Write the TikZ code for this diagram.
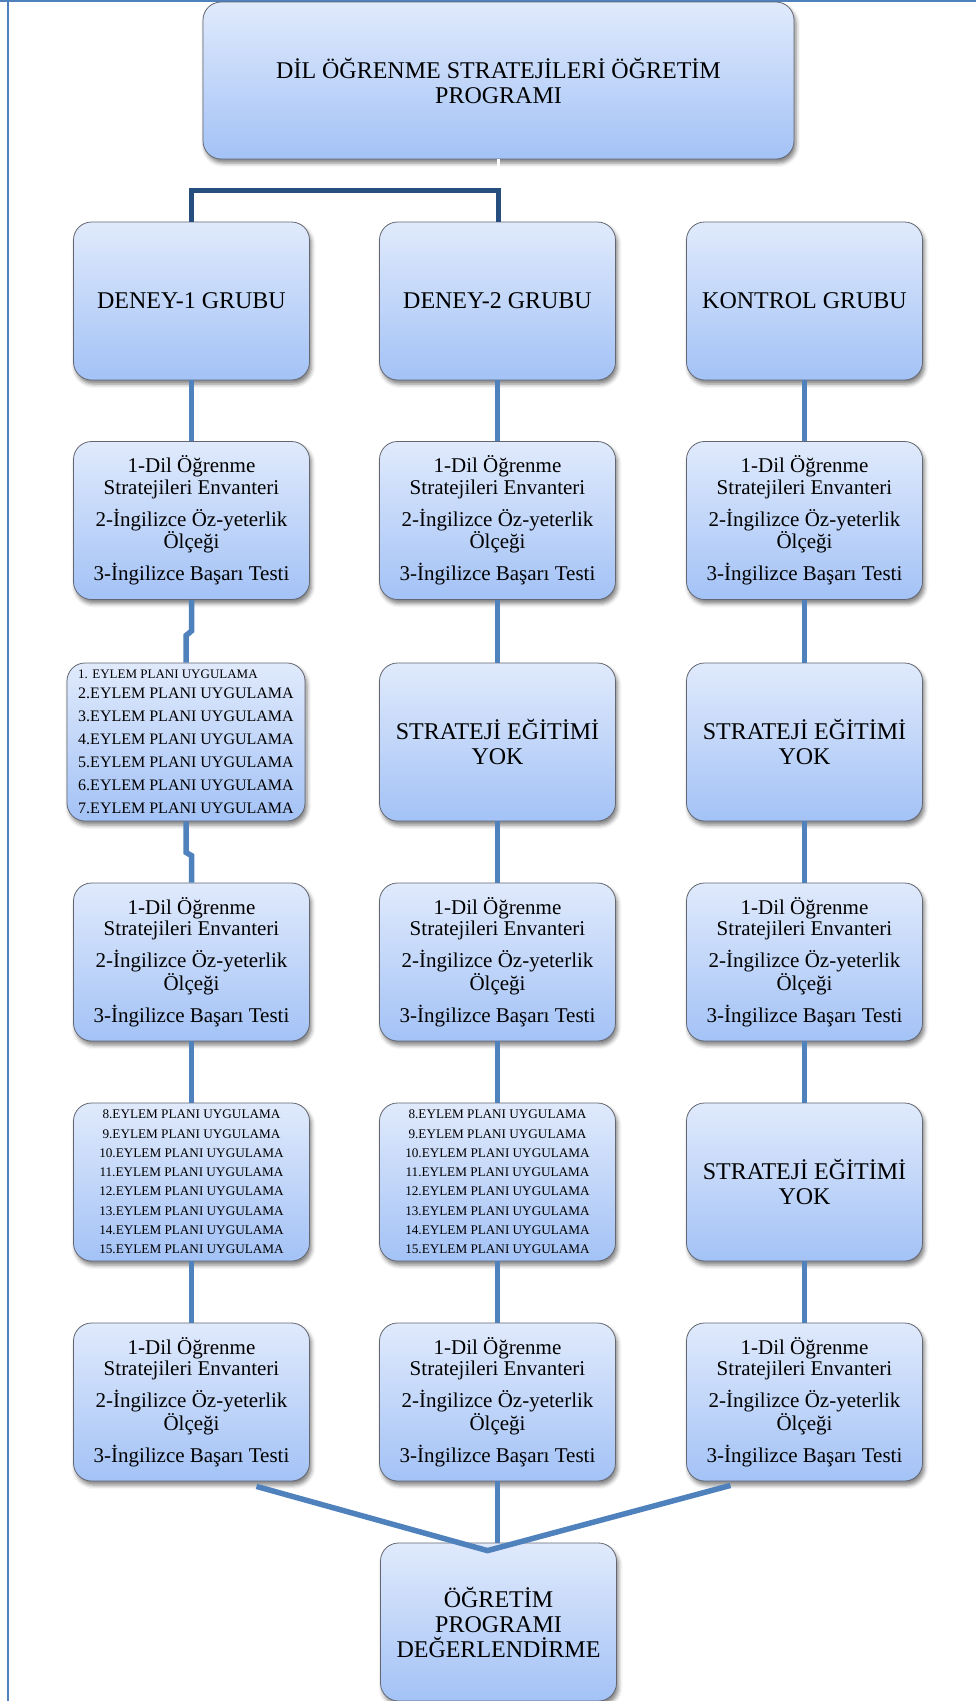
\documentclass[tikz,border=0pt]{standalone}
\usepackage{fontspec}
\setmainfont{Liberation Serif}
\usetikzlibrary{calc,shadows.blur}

\definecolor{boxtop}{RGB}{224,234,252}
\definecolor{boxbot}{RGB}{163,194,246}
\definecolor{linkblue}{RGB}{79,129,189}
\definecolor{navy}{RGB}{38,79,128}
\definecolor{edgegray}{RGB}{100,103,113}

% the three instrument lines that every measurement box repeats
\newcommand{\measurelist}{1-Dil Öğrenme\\Stratejileri Envanteri\\[9pt]2-İngilizce Öz-yeterlik\\Ölçeği\\[9pt]3-İngilizce Başarı Testi}
\newcommand{\planline}[1]{#1.EYLEM PLANI UYGULAMA}

\tikzset{
  card/.style={draw=edgegray, line width=0.8pt, rounded corners=18pt,
    top color=boxtop, bottom color=boxbot,
    minimum width=236pt, minimum height=158pt, align=center, inner sep=2pt,
    blur shadow={shadow xshift=2pt, shadow yshift=-4pt, shadow blur radius=4pt, shadow opacity=50}},
  bigtext/.style={font=\fontsize{24}{25}\selectfont},
  testtext/.style={font=\fontsize{21}{21.5}\selectfont},
  plantext/.style={font=\fontsize{16}{23}\selectfont, align=left},
  smallplan/.style={font=\fontsize{13.2}{19.3}\selectfont},
  link/.style={draw=linkblue, line width=5.5pt},
  toplink/.style={draw=navy, line width=5pt},
  stub/.style={draw=black!18, double=white, double distance=2.5pt, line width=0.6pt},
}

\begin{document}
\begin{tikzpicture}[x=1pt, y=-1pt]
\useasboundingbox (0,0) rectangle (976,1701);

% page frame (top and left rules)
\draw[draw=linkblue, line width=2.2pt] (0,1) -- (976,1);
\draw[draw=linkblue, line width=2.2pt] (8,0) -- (8,1701);

% title
\node[card, bigtext, minimum width=591pt, minimum height=157pt] (prog) at (498.5,80.5)
  {DİL ÖĞRENME STRATEJİLERİ ÖĞRETİM\\PROGRAMI};

% groups
\node[card, bigtext] (g1) at (191.5,301) {DENEY-1 GRUBU};
\node[card, bigtext] (g2) at (497.5,301) {DENEY-2 GRUBU};
\node[card, bigtext] (g3) at (804.5,301) {KONTROL GRUBU};

% pre-tests
\node[card, testtext] (a1) at (191.5,520.5) {\measurelist};
\node[card, testtext] (a2) at (497.5,520.5) {\measurelist};
\node[card, testtext] (a3) at (804.5,520.5) {\measurelist};

% first treatment phase
\node[card, plantext, minimum width=238pt] (e1) at (186,742)
  {{\fontsize{13}{13}\selectfont 1. EYLEM PLANI UYGULAMA}\\[-3pt]
   \planline{2}\\\planline{3}\\\planline{4}\\\planline{5}\\\planline{6}\\\planline{7}};
\node[card, bigtext] (s2) at (497.5,742) {STRATEJİ EĞİTİMİ\\YOK};
\node[card, bigtext] (s3) at (804.5,742) {STRATEJİ EĞİTİMİ\\YOK};

% mid-tests
\node[card, testtext] (b1) at (191.5,962) {\measurelist};
\node[card, testtext] (b2) at (497.5,962) {\measurelist};
\node[card, testtext] (b3) at (804.5,962) {\measurelist};

% second treatment phase
\node[card, smallplan] (f1) at (191.5,1182)
  {\planline{8}\\\planline{9}\\\planline{10}\\\planline{11}\\\planline{12}\\\planline{13}\\\planline{14}\\\planline{15}};
\node[card, smallplan] (f2) at (497.5,1182)
  {\planline{8}\\\planline{9}\\\planline{10}\\\planline{11}\\\planline{12}\\\planline{13}\\\planline{14}\\\planline{15}};
\node[card, bigtext] (t3) at (804.5,1182) {STRATEJİ EĞİTİMİ\\YOK};

% post-tests
\node[card, testtext] (c1) at (191.5,1402) {\measurelist};
\node[card, testtext] (c2) at (497.5,1402) {\measurelist};
\node[card, testtext] (c3) at (804.5,1402) {\measurelist};

% evaluation
\node[card, bigtext] (eval) at (498.5,1622) {ÖĞRETİM\\PROGRAMI\\DEĞERLENDİRME};

% title to groups
\coordinate (hub) at ($(prog.south)+(0,31)$);
\draw[stub] (prog.south) -- (hub);
\draw[toplink] (g1.north) |- (hub) -- (hub |- g2.north);

% column 1
\draw[link] (g1.south) -- (a1.north);
\draw[link] (a1.south) -- ++(0,31) -- ($(e1.north)+(0,-27)$) -- (e1.north);
\draw[link] (e1.south) -- ++(0,31) -- ($(b1.north)+(0,-27)$) -- (b1.north);
\draw[link] (b1.south) -- (f1.north);
\draw[link] (f1.south) -- (c1.north);

% column 2
\draw[link] (g2.south) -- (a2.north);
\draw[link] (a2.south) -- (s2.north);
\draw[link] (s2.south) -- (b2.north);
\draw[link] (b2.south) -- (f2.north);
\draw[link] (f2.south) -- (c2.north);

% column 3
\draw[link] (g3.south) -- (a3.north);
\draw[link] (a3.south) -- (s3.north);
\draw[link] (s3.south) -- (b3.north);
\draw[link] (b3.south) -- (t3.north);
\draw[link] (t3.south) -- (c3.north);

% post-tests to evaluation
\coordinate (apex) at ($(eval.north)+(-11,8)$);
\coordinate (leftfoot) at ($(c1.south)+(65,5)$);
\coordinate (rightfoot) at ($(c3.south)+(-74,4)$);
\draw[link] (c2.south) -- (c2.south |- eval.north);
\draw[link, line join=round] (leftfoot) -- (apex) -- (rightfoot);

\end{tikzpicture}
\end{document}
